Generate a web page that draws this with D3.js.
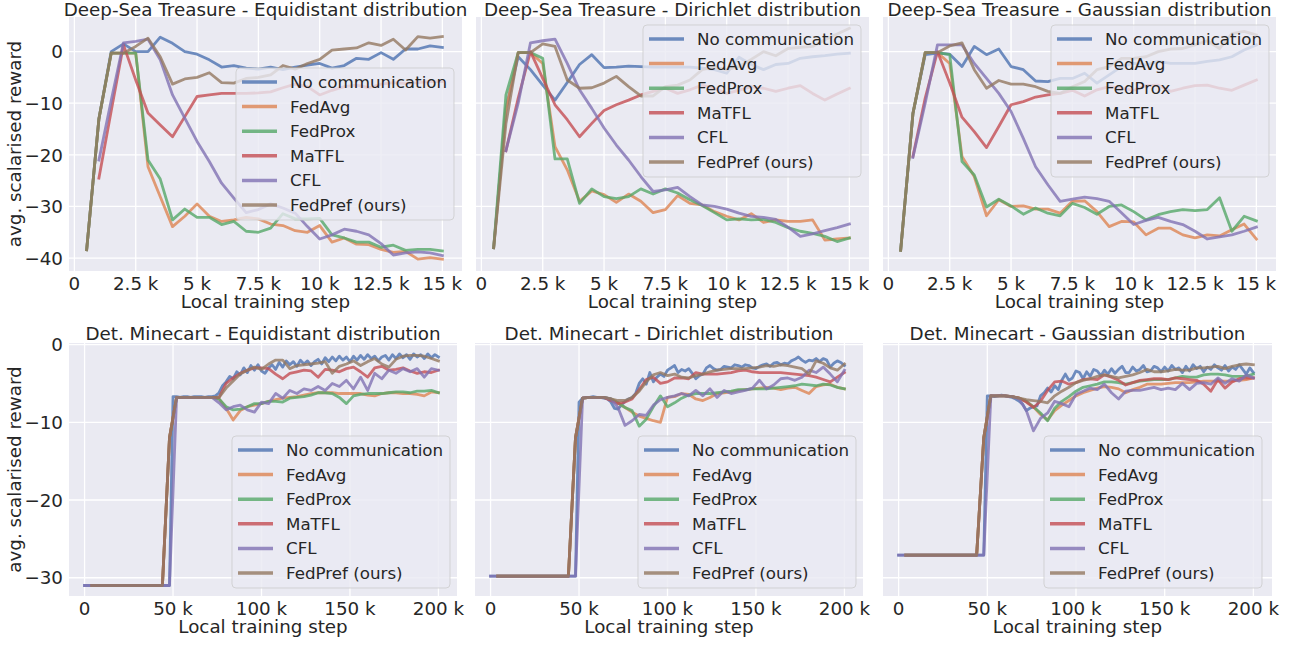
<!DOCTYPE html>
<html>
<head>
<meta charset="utf-8">
<script src="https://cdn.jsdelivr.net/npm/d3@7"></script>
<style>
  body { margin: 0; background: #fff; }
  svg { display: block; font-family: "DejaVu Sans", sans-serif; }
</style>
</head>
<body>
<script>
// series shared by all six panels
const seriesNames = ["No communication", "FedAvg", "FedProx", "MaTFL", "CFL", "FedPref (ours)"];
const seriesColors = ["#4c72b0", "#dd8452", "#55a868", "#c44e52", "#8172b3", "#937860"];

// ---- Deep-Sea Treasure (x in thousands of steps)
const dstSteps = [0.5, 1, 1.5, 2, 2.5, 3, 3.5, 4, 4.5, 5, 5.5, 6, 6.5, 7, 7.5, 8, 8.5, 9, 9.5, 10, 10.5, 11, 11.5, 12, 12.5, 13, 13.5, 14, 14.5, 15];
const dstTicks = [0, 2.5, 5, 7.5, 10, 12.5, 15];
const dstTickLabels = ["0", "2.5 k", "5 k", "7.5 k", "10 k", "12.5 k", "15 k"];
const dstYTicks = [0, -10, -20, -30, -40];

const dstEquiNoComm = [-38.4, -13, 0, 1.5, 0, 0, 2.8, 1.6, 0, -0.5, -1.6, -3, -2.7, -3.2, -3.4, -3, -3.5, -3, -2.6, -2.3, -3.2, -2.7, -1.3, -1.5, -0.2, -1.5, 0.5, 0.5, 1.1, 0.8];
const dstEquiFedAvg = [-38.4, -13, -0.3, -0.3, -0.3, -22.3, -28.1, -33.9, -31.9, -29.5, -31.9, -32.9, -32.6, -32.1, -32.4, -33.4, -33.7, -34.7, -35, -33.7, -36.9, -36.1, -37.3, -37.4, -38.3, -38.9, -38.7, -40.2, -39.9, -40.2];
const dstEquiFedProx = [-38.4, -13, -0.3, -0.3, -0.3, -21, -24.7, -32.6, -30.5, -32.1, -32.1, -33.5, -32.9, -34.8, -35, -34.2, -31.4, -32.4, -32.4, -32.3, -35.5, -36.1, -36.9, -36.9, -37.9, -37.5, -38.5, -38.3, -38.3, -38.6];
const dstEquiMaTFL = [null, -24.5, -11.5, 1.3, -5.5, -11.9, -14.2, -16.5, -12.6, -8.7, -8.4, -8.1, -8.1, -8.1, -8, -7.8, -7, -6.3, -6.8, -8.4, -7.5, -6.8, -6.5, -7, -6.3, -6, -6.2, -6, -5.8, -5.8];
const dstEquiCFL = [null, -21, -9.5, 1.7, 2, 2.4, -1.6, -8.4, -12.9, -17.4, -21.3, -25.5, -28.4, -31.2, -30.6, -29.5, -30.3, -31.3, -33.9, -36.3, -35.5, -34.4, -34.8, -35.5, -37.2, -39.4, -39, -38.8, -39, -39.5];
const dstEquiFedPref = [-38.4, -13, -0.3, -0.3, 1, 2.6, -1, -6.3, -5.3, -5, -4.1, -6, -6.1, -5.2, -5, -4.5, -2.7, -3.4, -2.3, -1.5, 0.3, 0.5, 0.7, 1.7, 1.2, 2.4, 0.3, 2.9, 2.6, 2.9];

const dstDirNoComm = [-38, -11, -1, -3.5, -6.5, -9.4, -6, -2.5, -0.6, -3.1, -3, -2.8, -2.9, -3, -3, -3, -3, -3.2, -3.5, -4.2, -1.1, -2.5, -3.5, -2.5, -2.3, -1.3, -1, -0.8, -0.5, -0.3];
const dstDirFedAvg = [-38, -11.3, -0.2, -0.2, -2.3, -18.4, -22.9, -29, -27, -27.7, -29.2, -27.6, -29, -31.2, -30.6, -27.9, -29.4, -29.7, -31, -31.9, -32.6, -31.4, -33.1, -32.6, -32.9, -32.9, -32.6, -36.5, -36.3, -36.1];
const dstDirFedProx = [-38, -8.4, -0.2, -0.2, -1.3, -20.8, -20.8, -29.4, -26.6, -28.1, -28.5, -28.1, -26.6, -27.6, -26.6, -27.4, -28.7, -29.8, -31.2, -32.6, -32.4, -32.6, -32.5, -33.1, -34.1, -34.8, -35.2, -35.8, -36.8, -36.1];
const dstDirMaTFL = [null, -19.2, -9, 0, -5.2, -10.3, -13.2, -16.5, -13.9, -11.4, -10.3, -9.4, -8.4, -7.7, -7.1, -8.1, -7.4, -6.5, -7.1, -8.1, -7.5, -6.8, -7.1, -7.7, -7.1, -6.6, -8.1, -9.4, -8.2, -7.1];
const dstDirCFL = [null, -19.2, -10, 1.7, 2.1, 2.4, -2.3, -7.4, -11, -14.8, -18.1, -21, -24.2, -27.1, -26.8, -26.3, -28.1, -29.7, -30, -30.5, -31.3, -31.9, -32.1, -32.5, -34, -35.8, -35.3, -34.7, -34.1, -33.4];
const dstDirFedPref = [-38, -14, -0.2, -0.2, 1.5, 1, -5.5, -7.1, -7, -6.1, -4.8, -6.8, -8.6, -8.6, -6.8, -6.5, -5.5, -3.5, -3, -3.5, -2.9, -1.5, 0, -0.8, 0.6, 0.8, 1, 2.3, 3.4, 4.5];

const dstGaussNoComm = [-38.5, -12, -0.6, -0.3, -0.5, -2.9, 1, -0.6, 0.5, -2.9, -3.5, -5.7, -5.8, -5.2, -5.2, -4.2, -6.1, -4.5, -2.9, -2.3, -2.6, -1.9, -2.3, -2.3, -2.3, -1.9, -1.6, -1, 0.3, 1.3];
const dstGaussFedAvg = [-38.5, -12, -0.2, -0.2, -2.3, -20.3, -24.2, -31.8, -28.7, -30, -29.9, -30.5, -30.5, -31.3, -29, -28.9, -31, -33.9, -32.9, -33, -35.5, -34.2, -34.2, -35.5, -36.1, -35.5, -35.7, -34.5, -33.4, -36.3];
const dstGaussFedProx = [-38.5, -12, -0.2, -0.2, -0.6, -21.3, -23.9, -30.1, -28.6, -29.9, -31.5, -30.3, -31.3, -31.8, -29.4, -30.2, -31.5, -30, -29.7, -31, -32.6, -31.6, -31, -30.6, -30.8, -30.6, -28.3, -34.8, -31.9, -32.8];
const dstGaussMaTFL = [null, -20.3, -9, 0, -6.1, -12.7, -15.5, -18.6, -14.5, -10.3, -9.7, -8.8, -8.4, -8.1, -7.5, -8.6, -7.4, -6.8, -7.1, -7.5, -6.6, -6.5, -7.7, -7.1, -6.6, -6.5, -7.1, -7.5, -6.5, -5.5];
const dstGaussCFL = [null, -20.5, -10, 1.3, 1.3, 1.3, -2.3, -5.2, -8.1, -11.6, -16.8, -22.3, -25.8, -29, -28.6, -28.2, -28.5, -29, -31.2, -33.5, -32.7, -32.1, -32.9, -33.5, -34.8, -36.3, -35.9, -35.5, -34.8, -34];
const dstGaussFedPref = [-38.5, -12, -0.2, -0.2, 1.1, 1.7, -3.5, -7.1, -5.6, -6.3, -6.3, -6.8, -7.7, -8.1, -6.8, -5.8, -3.5, -2.9, -1.3, -1.3, -1, 0, 0.5, 0.6, 1.3, 2.1, 0.6, 3.5, 3.9, 3.2];

// ---- Det. Minecart (x in thousands of steps)
const mcStepsFine = [0, 2, 4, 6, 8, 10, 12, 14, 16, 18, 20, 22, 24, 26, 28, 30, 32, 34, 36, 38, 40, 42, 44, 46, 48, 50, 52, 54, 56, 58, 60, 62, 64, 66, 68, 70, 72, 74, 76, 78, 80, 82, 84, 86, 88, 90, 92, 94, 96, 98, 100, 102, 104, 106, 108, 110, 112, 114, 116, 118, 120, 122, 124, 126, 128, 130, 132, 134, 136, 138, 140, 142, 144, 146, 148, 150, 152, 154, 156, 158, 160, 162, 164, 166, 168, 170, 172, 174, 176, 178, 180, 182, 184, 186, 188, 190, 192, 194, 196, 198, 200];
const mcStepsCoarse = [0, 4, 8, 12, 16, 20, 24, 28, 32, 36, 40, 44, 48, 52, 56, 60, 64, 68, 72, 76, 80, 84, 88, 92, 96, 100, 104, 108, 112, 116, 120, 124, 128, 132, 136, 140, 144, 148, 152, 156, 160, 164, 168, 172, 176, 180, 184, 188, 192, 196, 200];
const mcTicks = [0, 50, 100, 150, 200];
const mcTickLabels = ["0", "50 k", "100 k", "150 k", "200 k"];
const mcYTicks = [0, -10, -20, -30];

const mcEquiNoComm = [-31, -31, -31, -31, -31, -31, -31, -31, -31, -31, -31, -31, -31, -31, -31, -31, -31, -31, -31, -31, -31, -31, -31, -31, -31,
  -6.7, -6.7, -6.8, -6.7, -6.7, -6.8, -6.7, -6.7, -6.7, -6.8, -6.7, -6.7, -6.6,
  -6.2, -5.3, -4.8, -4.1, -4.4, -3.5, -3.9, -3.0, -3.6, -2.7, -3.3, -2.6, -3.4, -3.7, -3.0, -2.6, -3.2, -2.3, -2.9, -2.1,
  -2.6, -2.2, -2.8, -2.0, -2.5, -2.1, -2.7, -2.2, -1.9, -2.5, -1.7, -2.2, -1.6, -2.1, -1.5, -2.0, -1.6, -2.2, -1.5, -2.0,
  -1.4, -1.9, -1.3, -1.8, -1.5, -2.1, -1.6, -1.4, -2.0, -1.3, -1.8, -1.2, -1.7, -1.3, -1.9, -1.2, -1.6, -1.3, -1.8, -1.2,
  -1.7, -1.3, -1.6];
const mcEquiFedAvg = [null, -31, -31, -31, -31, -31, -31, -31, -31, -31, -31, -31, -12, -6.8, -6.8, -6.8, -6.8, -6.8, -6.8,
  -7, -8.2, -9.7, -8.5, -8, -7.8, -7.6, -7.3, -7.1, -6.9, -6.8, -6.7, -6.5, -6.3, -6.2, -6.2, -6.2, -6.3, -6.3, -6.3,
  -6.3, -6.5, -6.6, -6.3, -6.2, -6.2, -6.3, -6.3, -6.4, -6.6, -6.1, -6.2];
const mcEquiFedProx = [null, -31, -31, -31, -31, -31, -31, -31, -31, -31, -31, -31, -12, -6.8, -6.8, -6.8, -6.8, -6.8, -6.8,
  -7, -8, -8.4, -8.3, -8, -7.6, -7.6, -7.3, -7.3, -7.4, -6.9, -6.8, -6.7, -6.5, -6.2, -6.2, -6.3, -6.8, -7.6, -6.6,
  -6.4, -6.3, -6.3, -6.3, -6.2, -6.1, -6.1, -6.2, -6, -6, -5.9, -6.2];
const mcEquiMaTFL = [null, -31, -31, -31, -31, -31, -31, -31, -31, -31, -31, -31, -12, -6.8, -6.8, -6.8, -6.8, -6.8, -6.8,
  -6.8, -5, -4.3, -3.7, -3.3, -3, -3, -3.1, -3.8, -4.4, -3.7, -3.5, -3.3, -3.4, -4.2, -3.2, -3.3, -3.5, -3.1, -2.9,
  -3.5, -4.2, -3, -2.8, -3.3, -3.2, -3, -3.4, -3.7, -3.5, -3.6, -3.3];
const mcEquiCFL = [-31, -31, -31, -31, -31, -31, -31, -31, -31, -31, -31, -31, -31, -6.8, -6.8, -6.8, -6.8, -6.8, -6.8,
  -7.5, -8.4, -8, -7.8, -8.4, -8.7, -7.4, -7.6, -6.3, -6.9, -5.9, -6.3, -5.7, -5.9, -5.4, -5.9, -5, -5.4, -4.6, -5.7,
  -4.2, -5.9, -3.7, -4.4, -3.3, -3.7, -3.1, -3.5, -3.1, -4.2, -3.1, -3.3];
const mcEquiFedPref = [null, -31, -31, -31, -31, -31, -31, -31, -31, -31, -31, -31, -12, -6.8, -6.8, -6.8, -6.8, -6.8, -6.8,
  -6.8, -5.6, -4.7, -3.8, -3.3, -2.9, -3.2, -2.5, -2, -2, -3.1, -2.7, -2.6, -2.5, -2.4, -2.2, -3.7, -2.8, -2.5, -2.1,
  -2.7, -2.2, -1.8, -2.5, -2.9, -1.9, -1.5, -1.4, -1.4, -1.5, -1.8, -2.1];

const mcDirNoComm = [-29.8, -29.8, -29.8, -29.8, -29.8, -29.8, -29.8, -29.8, -29.8, -29.8, -29.8, -29.8, -29.8, -29.8, -29.8, -29.8, -29.8, -29.8, -29.8, -29.8, -29.8, -29.8, -29.8, -29.8, -29.8,
  -7.4, -6.9, -6.8, -6.8, -6.7, -6.8, -6.8, -6.9, -7.0, -7.4, -8.2, -8.3, -7.8, -7.3, -7.0, -6.8, -6.3, -5.0, -4.4, -5.1,
  -3.6, -4.8, -4.2, -3.8, -4.1, -3.3, -3.0, -2.7, -3.6, -3.2, -3.4, -3.1, -3.7, -4.4, -4.0, -3.8, -3.0, -2.7, -3.1, -3.3,
  -3.2, -2.8, -2.9, -3.0, -2.6, -2.7, -2.9, -2.6, -2.7, -3.0, -3.1, -2.8, -2.6, -2.5, -2.8, -2.4, -2.3, -2.6, -2.4, -2.5,
  -2.1, -1.9, -1.6, -2.0, -2.3, -2.0, -2.1, -1.8, -2.2, -1.8, -2.0, -2.9, -2.4, -2.1, -2.3, -2.7];
const mcDirFedAvg = [null, -29.8, -29.8, -29.8, -29.8, -29.8, -29.8, -29.8, -29.8, -29.8, -29.8, -29.8, -12, -6.9, -6.8, -6.8, -6.8,
  -7.0, -7.5, -8.1, -8.7, -9.2, -9.5, -9.8, -10.0, -6.8, -6.7, -6.3, -6.4, -7.0, -7.2, -6.8, -6.3, -6.2, -6.1, -5.9, -5.8,
  -5.7, -5.6, -5.5, -5.6, -5.8, -5.6, -5.5, -5.9, -6.3, -5.4, -5.2, -5.1, -5.5, -5.7];
const mcDirFedProx = [null, -29.8, -29.8, -29.8, -29.8, -29.8, -29.8, -29.8, -29.8, -29.8, -29.8, -29.8, -12, -6.9, -6.8, -6.8, -6.8,
  -7.0, -7.5, -8.1, -8.5, -10.5, -9.6, -8.0, -6.6, -8.0, -7.5, -6.9, -6.5, -6.3, -6.3, -6.3, -6.2, -6.1, -6.0, -5.8, -5.8,
  -5.7, -5.7, -5.7, -5.6, -5.5, -5.4, -5.3, -5.1, -5.2, -5.3, -5.1, -5.2, -5.5, -5.7];
const mcDirMaTFL = [null, -29.8, -29.8, -29.8, -29.8, -29.8, -29.8, -29.8, -29.8, -29.8, -29.8, -29.8, -12, -6.9, -6.8, -6.8, -6.8,
  -7.2, -7.6, -7.4, -7.0, -5.8, -4.5, -4.2, -5.0, -4.8, -4.3, -4.3, -4.4, -3.6, -3.8, -3.8, -3.8, -3.7, -3.6, -3.4, -3.3,
  -3.5, -3.6, -3.6, -3.6, -3.6, -3.7, -3.8, -3.9, -4.0, -4.2, -4.5, -4.8, -4.2, -3.6];
const mcDirCFL = [-29.8, -29.8, -29.8, -29.8, -29.8, -29.8, -29.8, -29.8, -29.8, -29.8, -29.8, -29.8, -29.8, -6.9, -6.8, -6.8, -6.8,
  -7.0, -8.1, -10.4, -9.8, -9.0, -9.1, -7.8, -7.1, -6.8, -6.6, -6.3, -6.6, -5.9, -6.6, -5.7, -6.8, -5.9, -6.3, -6.1, -5.9,
  -5.6, -4.6, -5.7, -5.2, -4.4, -4.3, -4.6, -4.2, -3.3, -3.6, -2.9, -3.8, -4.8, -3.3];
const mcDirFedPref = [null, -29.8, -29.8, -29.8, -29.8, -29.8, -29.8, -29.8, -29.8, -29.8, -29.8, -29.8, -12, -6.9, -6.8, -6.8, -6.8,
  -7.0, -7.2, -7.2, -6.8, -6.0, -4.8, -3.9, -3.6, -4.0, -3.8, -4.2, -4.3, -4.0, -3.8, -3.5, -3.3, -3.2, -3.1, -3.1, -3.1,
  -3.0, -2.9, -2.7, -2.8, -2.6, -2.7, -2.9, -3.1, -3.8, -2.1, -2.4, -3.0, -3.3, -2.5];

const mcGaussNoComm = [-27.1, -27.1, -27.1, -27.1, -27.1, -27.1, -27.1, -27.1, -27.1, -27.1, -27.1, -27.1, -27.1, -27.1, -27.1, -27.1, -27.1, -27.1, -27.1, -27.1, -27.1, -27.1, -27.1, -27.1, -27.1,
  -6.6, -6.6, -6.7, -6.6, -6.5, -6.6, -6.7, -6.8, -7.0, -7.3, -7.7, -8.5, -8.2, -8.0, -7.9, -6.6, -6.2, -5.6, -6.1, -5.3,
  -5.8, -4.6, -3.8, -4.6, -4.3, -3.4, -3.6, -4.4, -3.5, -4.1, -3.2, -3.4, -4.0, -3.3, -3.8, -3.1, -3.7, -3.2, -2.8, -3.6,
  -3.6, -2.9, -3.4, -3.2, -2.7, -3.5, -3.4, -2.8, -3.0, -3.5, -2.9, -3.4, -2.7, -3.2, -3.0, -3.6, -2.8, -3.4, -2.6, -3.1,
  -2.8, -3.5, -2.9, -3.2, -2.6, -3.0, -3.3, -2.7, -3.4, -2.9, -3.2, -2.6, -3.2, -3.8, -3.0, -3.6];
const mcGaussFedAvg = [null, -27.1, -27.1, -27.1, -27.1, -27.1, -27.1, -27.1, -27.1, -27.1, -27.1, -27.1, -12, -6.6, -6.6, -6.6, -6.7,
  -6.9, -7.3, -8.0, -9.0, -9.7, -8.5, -7.8, -7.2, -6.6, -6.2, -5.9, -5.6, -5.4, -5.5, -5.7, -6.2, -5.8, -5.5, -5.1, -5.1,
  -5.1, -5.0, -4.9, -4.9, -4.9, -4.8, -4.7, -4.7, -4.7, -4.7, -4.7, -4.6, -4.5, -4.3];
const mcGaussFedProx = [null, -27.1, -27.1, -27.1, -27.1, -27.1, -27.1, -27.1, -27.1, -27.1, -27.1, -27.1, -12, -6.6, -6.6, -6.6, -6.7,
  -6.9, -7.3, -8.0, -8.8, -9.8, -8.2, -7.3, -6.7, -6.0, -5.5, -5.3, -5.1, -4.8, -4.8, -4.9, -5.1, -4.9, -4.7, -4.6, -4.5,
  -4.5, -4.5, -4.3, -4.1, -4.2, -4.2, -3.9, -3.8, -3.8, -3.9, -4.1, -4.1, -4.1, -3.8];
const mcGaussMaTFL = [null, -27.1, -27.1, -27.1, -27.1, -27.1, -27.1, -27.1, -27.1, -27.1, -27.1, -27.1, -12, -6.6, -6.6, -6.6, -6.7,
  -6.9, -7.4, -8.1, -7.3, -5.9, -4.8, -4.7, -5.1, -4.9, -4.5, -4.4, -4.5, -3.9, -4.2, -4.6, -5.2, -4.9, -4.6, -4.5, -4.4,
  -4.4, -4.5, -4.3, -4.4, -4.5, -4.6, -5.1, -6.0, -4.5, -5.6, -4.8, -4.4, -4.3, -4.3];
const mcGaussCFL = [-27.1, -27.1, -27.1, -27.1, -27.1, -27.1, -27.1, -27.1, -27.1, -27.1, -27.1, -27.1, -27.1, -6.6, -6.6, -6.6, -6.7,
  -7.0, -8.5, -11.1, -9.5, -8.8, -7.3, -7.6, -8.0, -6.4, -6.0, -5.6, -5.8, -5.1, -6.2, -7.0, -6.0, -5.9, -5.9, -5.7, -5.5,
  -5.8, -5.6, -5.8, -5.0, -5.8, -5.0, -4.9, -5.1, -4.3, -5.0, -4.4, -4.7, -3.9, -4.3];
const mcGaussFedPref = [null, -27.1, -27.1, -27.1, -27.1, -27.1, -27.1, -27.1, -27.1, -27.1, -27.1, -27.1, -12, -6.6, -6.6, -6.6, -6.7,
  -6.9, -7.1, -7.2, -7.3, -7.5, -6.6, -6.0, -5.5, -4.9, -4.6, -4.4, -4.1, -3.9, -4.1, -4.3, -4.1, -3.9, -3.6, -3.2, -3.5,
  -3.5, -3.4, -3.2, -3.3, -3.3, -3.0, -3.0, -2.9, -2.8, -3.1, -2.8, -2.6, -2.5, -2.6];

const width = 1303, height = 646;
const svg = d3.select("body").append("svg").attr("width", width).attr("height", height);
svg.append("rect").attr("width", width).attr("height", height).attr("fill", "#fff");

const fontSize = 18.3;       // titles, ticks, axis labels
const legendFontSize = 16.7;
const textColor = "#262626";

const panels = [
  { title: "Deep-Sea Treasure - Equidistant distribution", left: 69, right: 462, top: 17, bottom: 271, row: 0, yLabels: true, legend: [236, 68],
    steps: [dstSteps, dstSteps, dstSteps, dstSteps, dstSteps, dstSteps],
    values: [dstEquiNoComm, dstEquiFedAvg, dstEquiFedProx, dstEquiMaTFL, dstEquiCFL, dstEquiFedPref] },
  { title: "Deep-Sea Treasure - Dirichlet distribution", left: 476, right: 869, top: 17, bottom: 271, row: 0, yLabels: false, legend: [643, 25],
    steps: [dstSteps, dstSteps, dstSteps, dstSteps, dstSteps, dstSteps],
    values: [dstDirNoComm, dstDirFedAvg, dstDirFedProx, dstDirMaTFL, dstDirCFL, dstDirFedPref] },
  { title: "Deep-Sea Treasure - Gaussian distribution", left: 883, right: 1276, top: 17, bottom: 271, row: 0, yLabels: false, legend: [1051, 25],
    steps: [dstSteps, dstSteps, dstSteps, dstSteps, dstSteps, dstSteps],
    values: [dstGaussNoComm, dstGaussFedAvg, dstGaussFedProx, dstGaussMaTFL, dstGaussCFL, dstGaussFedPref] },
  { title: "Det. Minecart - Equidistant distribution", left: 69, right: 457, top: 343, bottom: 596, row: 1, yLabels: true, legend: [232, 436],
    steps: [mcStepsFine, mcStepsCoarse, mcStepsCoarse, mcStepsCoarse, mcStepsCoarse, mcStepsCoarse],
    values: [mcEquiNoComm, mcEquiFedAvg, mcEquiFedProx, mcEquiMaTFL, mcEquiCFL, mcEquiFedPref] },
  { title: "Det. Minecart - Dirichlet distribution", left: 475, right: 863, top: 343, bottom: 596, row: 1, yLabels: false, legend: [638, 436],
    steps: [mcStepsFine, mcStepsCoarse, mcStepsCoarse, mcStepsCoarse, mcStepsCoarse, mcStepsCoarse],
    values: [mcDirNoComm, mcDirFedAvg, mcDirFedProx, mcDirMaTFL, mcDirCFL, mcDirFedPref] },
  { title: "Det. Minecart - Gaussian distribution", left: 883, right: 1272, top: 343, bottom: 596, row: 1, yLabels: false, legend: [1044, 436],
    steps: [mcStepsFine, mcStepsCoarse, mcStepsCoarse, mcStepsCoarse, mcStepsCoarse, mcStepsCoarse],
    values: [mcGaussNoComm, mcGaussFedAvg, mcGaussFedProx, mcGaussMaTFL, mcGaussCFL, mcGaussFedPref] }
];

const rows = [
  { xDomain: [-0.22, 15.8], yDomain: [-42.5, 6.7], xTicks: dstTicks, xTickLabels: dstTickLabels, yTicks: dstYTicks, titleGap: 1.5 },
  { xDomain: [-8.8, 210.5], yDomain: [-32.35, 0.2], xTicks: mcTicks, xTickLabels: mcTickLabels, yTicks: mcYTicks, titleGap: 2.7 }
];

const fmtY = (v) => (v < 0 ? "\u2212" + Math.abs(v) : String(v));

panels.forEach((p) => {
  const r = rows[p.row];
  const x = d3.scaleLinear().domain(r.xDomain).range([p.left, p.right]);
  const y = d3.scaleLinear().domain(r.yDomain).range([p.bottom, p.top]);
  const g = svg.append("g");

  g.append("rect")
    .attr("x", p.left).attr("y", p.top)
    .attr("width", p.right - p.left).attr("height", p.bottom - p.top)
    .attr("fill", "#eaeaf2");

  // grid
  g.selectAll(".vgrid").data(r.xTicks).enter().append("line")
    .attr("x1", (d) => x(d)).attr("x2", (d) => x(d))
    .attr("y1", p.top).attr("y2", p.bottom)
    .attr("stroke", "#fff").attr("stroke-width", 1.3);
  g.selectAll(".hgrid").data(r.yTicks).enter().append("line")
    .attr("x1", p.left).attr("x2", p.right)
    .attr("y1", (d) => y(d)).attr("y2", (d) => y(d))
    .attr("stroke", "#fff").attr("stroke-width", 1.3);

  // tick labels
  g.selectAll(".xtl").data(r.xTicks).enter().append("text")
    .attr("x", (d) => x(d)).attr("y", p.bottom + 19)
    .attr("text-anchor", "middle").attr("font-size", fontSize).attr("fill", textColor)
    .text((d, i) => r.xTickLabels[i]);
  if (p.yLabels) {
    g.selectAll(".ytl").data(r.yTicks).enter().append("text")
      .attr("x", p.left - 6).attr("y", (d) => y(d) + 6.7)
      .attr("text-anchor", "end").attr("font-size", fontSize).attr("fill", textColor)
      .text((d) => fmtY(d));
    g.append("text")
      .attr("transform", "translate(20.5," + (p.top + p.bottom) / 2 + ") rotate(-90)")
      .attr("text-anchor", "middle").attr("font-size", fontSize).attr("fill", textColor)
      .text("avg. scalarised reward");
  }

  // axis label + title
  g.append("text")
    .attr("x", (p.left + p.right) / 2).attr("y", p.bottom + 37.4)
    .attr("text-anchor", "middle").attr("font-size", fontSize).attr("fill", textColor)
    .text("Local training step");
  g.append("text")
    .attr("x", (p.left + p.right) / 2).attr("y", p.top - r.titleGap)
    .attr("text-anchor", "middle").attr("font-size", fontSize).attr("fill", textColor)
    .text(p.title);

  // lines
  const line = d3.line()
    .defined((d) => d[1] != null)
    .x((d) => x(d[0]))
    .y((d) => y(d[1]));
  p.values.forEach((vals, si) => {
    const pts = vals.map((v, i) => [p.steps[si][i], v]);
    g.append("path")
      .datum(pts)
      .attr("d", line)
      .attr("fill", "none")
      .attr("stroke", seriesColors[si])
      .attr("stroke-width", 2.8)
      .attr("stroke-opacity", 0.8)
      .attr("stroke-linejoin", "round")
      .attr("stroke-linecap", "square");
  });

  // legend
  const lx = p.legend[0], ly = p.legend[1];
  const lg = g.append("g");
  lg.append("rect")
    .attr("x", lx).attr("y", ly).attr("width", 218).attr("height", 152)
    .attr("rx", 4).attr("ry", 4)
    .attr("fill", "#eaeaf2").attr("fill-opacity", 0.8)
    .attr("stroke", "#cccccc").attr("stroke-opacity", 0.8).attr("stroke-width", 1);
  seriesNames.forEach((name, si) => {
    const cy = ly + 14 + si * 24.6;
    lg.append("line")
      .attr("x1", lx + 6).attr("x2", lx + 41)
      .attr("y1", cy).attr("y2", cy)
      .attr("stroke", seriesColors[si]).attr("stroke-width", 3.5).attr("stroke-opacity", 0.8);
    lg.append("text")
      .attr("x", lx + 54).attr("y", cy + 6)
      .attr("font-size", legendFontSize).attr("fill", textColor)
      .text(name);
  });
});
</script>
</body>
</html>
